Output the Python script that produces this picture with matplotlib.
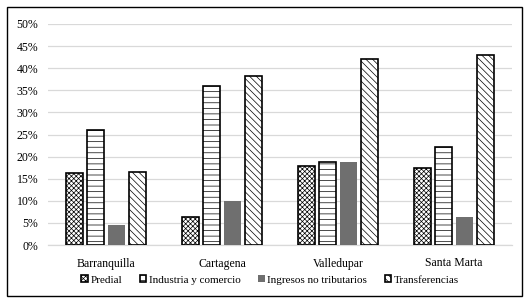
import matplotlib
matplotlib.use("Agg")
import matplotlib.pyplot as plt
import matplotlib.patches as mpatches
import numpy as np

# data (share of total revenue)
cities = ["Barranquilla", "Cartagena", "Valledupar", "Santa Marta"]
series = ["Predial", "Industria y comercio", "Ingresos no tributarios", "Transferencias"]
predial        = [0.163, 0.063, 0.179, 0.174]
industria      = [0.260, 0.360, 0.188, 0.222]
no_tributarios = [0.045, 0.100, 0.188, 0.063]
transferencias = [0.165, 0.382, 0.421, 0.430]
yticks = np.arange(0, 0.51, 0.05)

plt.rcParams["font.family"] = ["Liberation Serif", "DejaVu Serif"]
plt.rcParams["hatch.linewidth"] = 0.5
plt.rcParams["hatch.color"] = "black"

fig = plt.figure(figsize=(5.32, 3.04), dpi=100)
fig.patch.set_facecolor("white")
# outer frame around the whole chart
fig.patches.append(mpatches.Rectangle((7 / 532, 8 / 304), 515 / 532, 289 / 304,
                                      transform=fig.transFigure, fill=False,
                                      edgecolor="black", linewidth=1.0))

ax = fig.add_axes([48 / 532, 1 - 245 / 304, 464 / 532, 221 / 304])

x = np.arange(len(cities))
step = 0.181
width = 0.147
styles = [
    dict(facecolor="white", edgecolor="black", hatch="xxxxxxx", linewidth=1.2),
    dict(facecolor="white", edgecolor="black", hatch="---", linewidth=1.2),
    dict(facecolor="#6f6f6f", edgecolor="#6f6f6f", linewidth=0),
    dict(facecolor="white", edgecolor="black", hatch="\\\\\\\\\\", linewidth=1.2),
]
values = [predial, industria, no_tributarios, transferencias]
handles = []
for k, (vals, st, name) in enumerate(zip(values, styles, series)):
    bars = ax.bar(x + (k - 1.5) * step, vals, width=width, label=name, zorder=3, **st)
    handles.append(bars)

ax.set_xlim(-0.5, 3.5)
ax.set_ylim(0, 0.5)
ax.set_yticks(yticks)
ax.set_yticklabels([f"{int(round(t * 100))}%" for t in yticks])
ax.set_xticks(x)
ax.set_xticklabels(cities)
ax.tick_params(axis="both", length=0, labelsize=8.5)
ax.tick_params(axis="y", pad=7)
ax.tick_params(axis="x", pad=9)
ax.grid(axis="y", color="#d9d9d9", linewidth=0.9, zorder=0)
for s in ["top", "right", "left"]:
    ax.spines[s].set_visible(False)
ax.spines["bottom"].set_color("#d9d9d9")
ax.spines["bottom"].set_linewidth(0.9)

fig.legend(handles=handles, labels=series, loc="center",
           bbox_to_anchor=(270 / 532, 1 - 280 / 304), ncol=4, frameon=False,
           fontsize=8, handlelength=0.6, handleheight=0.6, handletextpad=0.2,
           columnspacing=1.6)

fig.savefig("out.png", dpi=100)
